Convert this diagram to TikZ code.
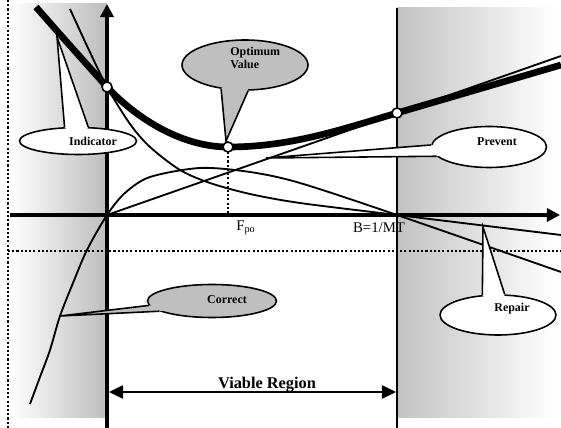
\documentclass[tikz,border=0pt]{standalone}
\usepackage{fontspec}
\setmainfont{Liberation Serif}
\usepackage{tikz}
\usetikzlibrary{positioning,shapes.geometric,arrows.meta}

\tikzset{
  thin curve/.style={line width=1.05pt},
  total curve/.style={line width=3.8pt},
  axis/.style={line width=2.1pt, -{Triangle[length=7.5pt,width=7.5pt]}},
  dots/.style={line width=1.4pt, dash pattern=on 1.2pt off 1.2pt},
  callout/.style={ellipse, draw, line width=0.9pt, inner sep=0pt},
  callout text/.style={font=\fontsize{6.8}{7.6}\selectfont\bfseries, inner sep=0pt, align=left},
  point/.style={circle, draw, fill=white, line width=0.9pt, minimum size=0.2cm, inner sep=0pt},
}

\begin{document}
\begin{tikzpicture}[x=0.02cm, y=-0.02cm]
        \useasboundingbox (0,0) rectangle (561,428);

        % Shaded zones
        \shade[left color=white, right color=black!26] (10,4) rectangle (107,418);
        \shade[left color=black!24, right color=white] (397,8) rectangle (556,418);

        % Dotted guides
        \draw[dots] (8,0) -- (8,428);
        \draw[dots] (8,251) -- (561,251);

        \coordinate (O) at (107,215);
        \coordinate (B) at (397,215);
        \coordinate (xstart) at (10,215);
        \coordinate (xend) at (560,215);
        \coordinate (ybot) at (107,428);
        \coordinate (ytop) at (107,4);
        \coordinate (btop) at (397,8);
        \coordinate (bbot) at (397,428);
        \coordinate (Fpo) at (228,215);

        % Axes
        \draw[line width=1.2pt] (btop) -- (bbot);
        \draw[axis] (xstart) -- (xend);
        \draw[axis] (ybot) -- (ytop);

        % Curves
        \draw[thin curve] (O) -- (561,56);
        \draw[thin curve] plot[smooth] coordinates {(70,9) (88,48) (107,87) (130,124) (150,147) (180,170) (210,183) (250,194) (300,203) (397,215) (561,235)};
        \draw[thin curve] plot[smooth] coordinates {(30,404) (40,377) (50,350) (60,316) (73,283) (87,250) (107,215) (125,193) (150,177) (200,168) (250,172) (300,183) (397,215) (561,272)};
        \draw[total curve] (36,7) .. controls (70,46) and (92,70) .. (107,87) .. controls (140,122) and (185,147) .. (228,147) .. controls (290,147) and (340,130) .. (397,113) -- (561,65);

        \draw[dots] (228,152) -- (Fpo);

        % Labels
        \node[anchor=base west, font=\fontsize{8.4}{10}\selectfont, inner sep=0pt] (fpo) at (236,231) {F\textsubscript{po}};
        \node[font=\fontsize{8.4}{10}\selectfont, inner sep=0pt] (bval) at (379,228) {B=1/MT};

        % Viable region
        \coordinate (vl) at (109,392);
        \coordinate (vr) at (396,392);
        \draw[line width=1.2pt, {Triangle[length=8pt,width=7.5pt]}-{Triangle[length=8pt,width=7.5pt]}] (vl) -- (vr);
        \node[anchor=base, font=\fontsize{9.3}{11}\selectfont\bfseries, inner sep=0pt] (viable) at (267,389) {Viable Region};

        % Callouts
        \node[callout, fill=white, minimum width=2.34cm, minimum height=0.54cm] (ind) at (78,141) {};
        \coordinate (indtip) at (57,37);
        \fill[white] (indtip) -- (ind.134) -- (ind.center) -- (ind.54) -- cycle;
        \draw[line width=0.9pt] (ind.134) -- (indtip) -- (ind.54);
        \node[callout text] (indtxt) at (93,141) {Indicator};

        \node[callout, fill=black!25, minimum width=2.52cm, minimum height=1.0cm] (opt) at (245,65) {};
        \coordinate (opttip) at (226,141);
        \fill[black!25] (opttip) -- (opt.225) -- (opt.center) -- (opt.277) -- cycle;
        \draw[line width=0.9pt] (opt.225) -- (opttip) -- (opt.277);
        \node[callout text, anchor=west] (opttxt) at (230,58) {Optimum\\Value};

        \node[callout, fill=white, minimum width=2.3cm, minimum height=0.82cm] (prv) at (489,147) {};
        \coordinate (prvtip) at (266,158);
        \fill[white] (prvtip) -- (prv.178) -- (prv.center) -- (prv.190) -- cycle;
        \draw[line width=0.9pt] (prv.178) -- (prvtip) -- (prv.190);
        \node[callout text] (prvtxt) at (497,142) {Prevent};

        \node[callout, fill=black!25, minimum width=2.58cm, minimum height=0.66cm] (cor) at (212,301) {};
        \coordinate (cortip) at (60,316);
        \fill[black!25] (cortip) -- (cor.184) -- (cor.center) -- (cor.191) -- cycle;
        \draw[line width=0.9pt] (cor.184) -- (cortip) -- (cor.191);
        \node[callout text] (cortxt) at (227,300) {Correct};

        \node[callout, fill=white, minimum width=2.32cm, minimum height=0.8cm] (rep) at (498,315) {};
        \coordinate (reptip) at (483,227);
        \fill[white] (reptip) -- (rep.128) -- (rep.center) -- (rep.72) -- cycle;
        \draw[line width=0.9pt] (rep.128) -- (reptip) -- (rep.72);
        \node[callout text] (reptxt) at (512,309) {Repair};

        % Points
        \node[point] (c1) at (107,87) {};
        \node[point] (c2) at (228,147) {};
        \node[point] (c3) at (397,113) {};
\end{tikzpicture}
\end{document}
